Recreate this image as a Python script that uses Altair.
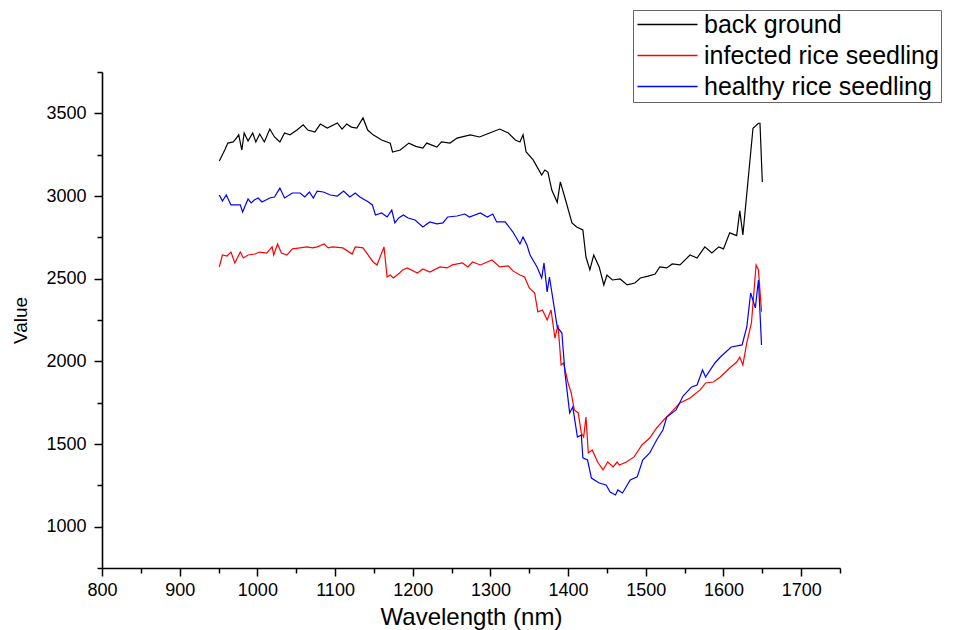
import altair as alt
import pandas as pd

FONT = "Liberation Sans"

series_names = ["back ground", "infected rice seedling", "healthy rice seedling"]
series_colors = ["#000000", "#ff0000", "#0000ff"]

bg_wl = [951, 958, 962, 969, 973, 976, 980, 983, 988, 994, 998, 1003, 1009, 1016, 1022, 1029, 1035, 1042,
         1051, 1059, 1065, 1074, 1081, 1090, 1103, 1109, 1115, 1121, 1128, 1136, 1142, 1149, 1160, 1171,
         1174, 1184, 1195, 1204, 1213, 1218, 1231, 1237, 1248, 1257, 1274, 1286, 1299, 1312, 1323, 1332,
         1338, 1342, 1346, 1355, 1366, 1370, 1374, 1379, 1386, 1390, 1396, 1405, 1411, 1419, 1423, 1428,
         1433, 1440, 1446, 1450, 1457, 1467, 1476, 1486, 1493, 1503, 1512, 1518, 1527, 1534, 1544, 1557,
         1566, 1576, 1585, 1594, 1600, 1608, 1617, 1621, 1625, 1638, 1645, 1647, 1650]
bg_val = [3212, 3278, 3320, 3327, 3350, 3370, 3278, 3381, 3333, 3381, 3327, 3375, 3327, 3405, 3357, 3327, 3381, 3370,
          3399, 3430, 3399, 3387, 3435, 3411, 3442, 3405, 3435, 3417, 3411, 3472, 3399, 3370, 3339, 3320,
          3266, 3278, 3320, 3300, 3290, 3320, 3296, 3327, 3320, 3350, 3370, 3357, 3381, 3405, 3381, 3339,
          3327, 3370, 3266, 3218, 3127, 3157, 3145, 3036, 2962, 3085, 2988, 2837, 2813, 2795, 2631, 2553,
          2643, 2571, 2462, 2522, 2492, 2498, 2462, 2474, 2504, 2515, 2528, 2571, 2565, 2589, 2583, 2643,
          2625, 2692, 2655, 2692, 2680, 2777, 2760, 2910, 2765, 3410, 3440, 3440, 3085]

inf_wl = [951, 955, 961, 966, 971, 978, 982, 988, 997, 1003, 1012, 1019, 1021, 1026, 1031, 1038, 1045, 1055,
          1064, 1071, 1077, 1086, 1091, 1097, 1110, 1122, 1126, 1136, 1149, 1154, 1158, 1163, 1167, 1171,
          1175, 1183, 1187, 1193, 1206, 1213, 1222, 1235, 1244, 1251, 1264, 1271, 1277, 1287, 1293, 1302,
          1312, 1323, 1329, 1338, 1344, 1350, 1357, 1361, 1367, 1373, 1378, 1383, 1387, 1391, 1394, 1400,
          1404, 1408, 1413, 1417, 1420, 1423, 1426, 1431, 1438, 1445, 1451, 1458, 1463, 1466, 1475, 1485,
          1495, 1505, 1514, 1523, 1532, 1544, 1557, 1570, 1577, 1587, 1596, 1608, 1617, 1621, 1625, 1630,
          1636, 1642, 1645, 1649]
inf_val = [2571, 2643, 2637, 2661, 2595, 2661, 2625, 2643, 2649, 2661, 2655, 2692, 2643, 2710, 2655, 2643, 2680, 2686,
           2692, 2686, 2692, 2710, 2686, 2692, 2686, 2649, 2692, 2686, 2601, 2583, 2631, 2692, 2510, 2522,
           2504, 2534, 2553, 2565, 2534, 2559, 2540, 2571, 2565, 2583, 2595, 2571, 2601, 2583, 2595, 2613,
           2571, 2577, 2547, 2522, 2510, 2444, 2413, 2299, 2311, 2250, 2311, 2141, 2220, 1978, 1990, 1869,
           1809, 1706, 1688, 1567, 1542, 1663, 1446, 1464, 1391, 1343, 1391, 1361, 1391, 1373, 1391, 1422,
           1494, 1536, 1597, 1645, 1688, 1748, 1778, 1827, 1869, 1875, 1905, 1960, 1996, 2026, 1978, 2111,
           2232, 2583, 2553, 2300]

hea_wl = [951, 955, 960, 966, 978, 981, 988, 992, 996, 1001, 1006, 1016, 1022, 1029, 1035, 1045, 1055, 1061,
          1067, 1072, 1077, 1085, 1094, 1103, 1111, 1119, 1126, 1132, 1143, 1148, 1152, 1160, 1167, 1173,
          1177, 1182, 1188, 1194, 1203, 1213, 1222, 1231, 1239, 1245, 1257, 1267, 1273, 1287, 1296, 1303,
          1308, 1319, 1329, 1338, 1342, 1347, 1351, 1360, 1366, 1369, 1373, 1376, 1386, 1392, 1396, 1402,
          1406, 1412, 1417, 1419, 1425, 1430, 1440, 1449, 1454, 1461, 1464, 1470, 1480, 1489, 1496, 1505,
          1514, 1522, 1527, 1539, 1548, 1559, 1566, 1573, 1577, 1583, 1589, 1596, 1610, 1624, 1630, 1635,
          1641, 1645, 1649]
hea_val = [3006, 2970, 3006, 2946, 2946, 2903, 2982, 2958, 2976, 2988, 2964, 2988, 2994, 3048, 2988, 3018, 3018, 2994,
           3024, 2988, 3030, 3024, 3006, 3000, 3030, 2994, 3018, 2994, 2964, 2946, 2885, 2897, 2873, 2915,
           2837, 2867, 2885, 2867, 2855, 2813, 2843, 2831, 2837, 2873, 2879, 2891, 2873, 2897, 2873, 2891,
           2843, 2843, 2782, 2710, 2752, 2704, 2643, 2571, 2504, 2595, 2420, 2510, 2208, 2171, 1929, 1688,
           1724, 1542, 1554, 1416, 1403, 1294, 1264, 1252, 1210, 1192, 1222, 1204, 1283, 1301, 1403, 1446,
           1524, 1585, 1663, 1706, 1790, 1845, 1857, 1948, 1905, 1948, 1990, 2026, 2087, 2099, 2208, 2413,
           2323, 2492, 2099]

x_major = [800, 900, 1000, 1100, 1200, 1300, 1400, 1500, 1600, 1700]
x_minor = [850, 950, 1050, 1150, 1250, 1350, 1450, 1550, 1650, 1750]
y_major = [1000, 1500, 2000, 2500, 3000, 3500]
y_minor = [750, 1250, 1750, 2250, 2750, 3250, 3750]

rows = []
for name, wls, vals in [(series_names[0], bg_wl, bg_val),
                        (series_names[1], inf_wl, inf_val),
                        (series_names[2], hea_wl, hea_val)]:
    for i, (w, v) in enumerate(zip(wls, vals)):
        rows.append({"series": name, "wl": w, "val": v, "order": i})
df = pd.DataFrame(rows)

xscale = alt.Scale(domain=[800, 1750], nice=False, zero=False)
yscale = alt.Scale(domain=[750, 3750], nice=False, zero=False)

axis_common = dict(domainColor="#000000", domainWidth=1.6, tickColor="#000000", tickWidth=1.5,
                   labelColor="#000000", labelFont=FONT, labelFontSize=18, grid=False,
                   titleFont=FONT, titleFontWeight="normal", titleColor="#000000")

lines = alt.Chart(df).mark_line(strokeWidth=1.2).encode(
    x=alt.X("wl:Q", scale=xscale,
            axis=alt.Axis(values=x_major, title="Wavelength (nm)", tickSize=8, labelPadding=5,
                          labelFlush=False, titlePadding=6, titleFontSize=24, format="d",
                          **axis_common)),
    y=alt.Y("val:Q", scale=yscale,
            axis=alt.Axis(values=y_major, title="Value", tickSize=8, labelPadding=8,
                          titlePadding=15, titleFontSize=19, format="d", **axis_common)),
    color=alt.Color("series:N", sort=series_names,
                    scale=alt.Scale(domain=series_names, range=series_colors),
                    legend=alt.Legend(orient="none", legendX=531, legendY=-62, title=None,
                                      symbolType="M-1,0L5,0", symbolSize=400, symbolStrokeWidth=1.6,
                                      symbolFillColor="transparent",
                                      labelFont=FONT, labelFontSize=25, labelColor="#000000",
                                      labelLimit=400, labelOffset=44, rowPadding=5, padding=2,
                                      strokeColor="#666666", fillColor="#ffffff")),
    order="order:Q",
)

minor = alt.Chart(df).mark_point(opacity=0).encode(
    x=alt.X("wl:Q", scale=xscale,
            axis=alt.Axis(values=x_minor, orient="bottom", labels=False, title=None, domain=False,
                          tickSize=5, tickColor="#000000", tickWidth=1.5, grid=False)),
    y=alt.Y("val:Q", scale=yscale,
            axis=alt.Axis(values=y_minor, orient="left", labels=False, title=None, domain=False,
                          tickSize=5, tickColor="#000000", tickWidth=1.5, grid=False)),
)

chart = alt.layer(lines, minor).resolve_axis(x="independent", y="independent").properties(
    width=738, height=496,
    padding={"left": 102, "top": 72, "right": 118, "bottom": 62},
    autosize=alt.AutoSizeParams(type="none"),
    background="#ffffff",
).configure_view(stroke=None)

chart.save("out.html", embed_options={"renderer": "svg", "actions": False})
